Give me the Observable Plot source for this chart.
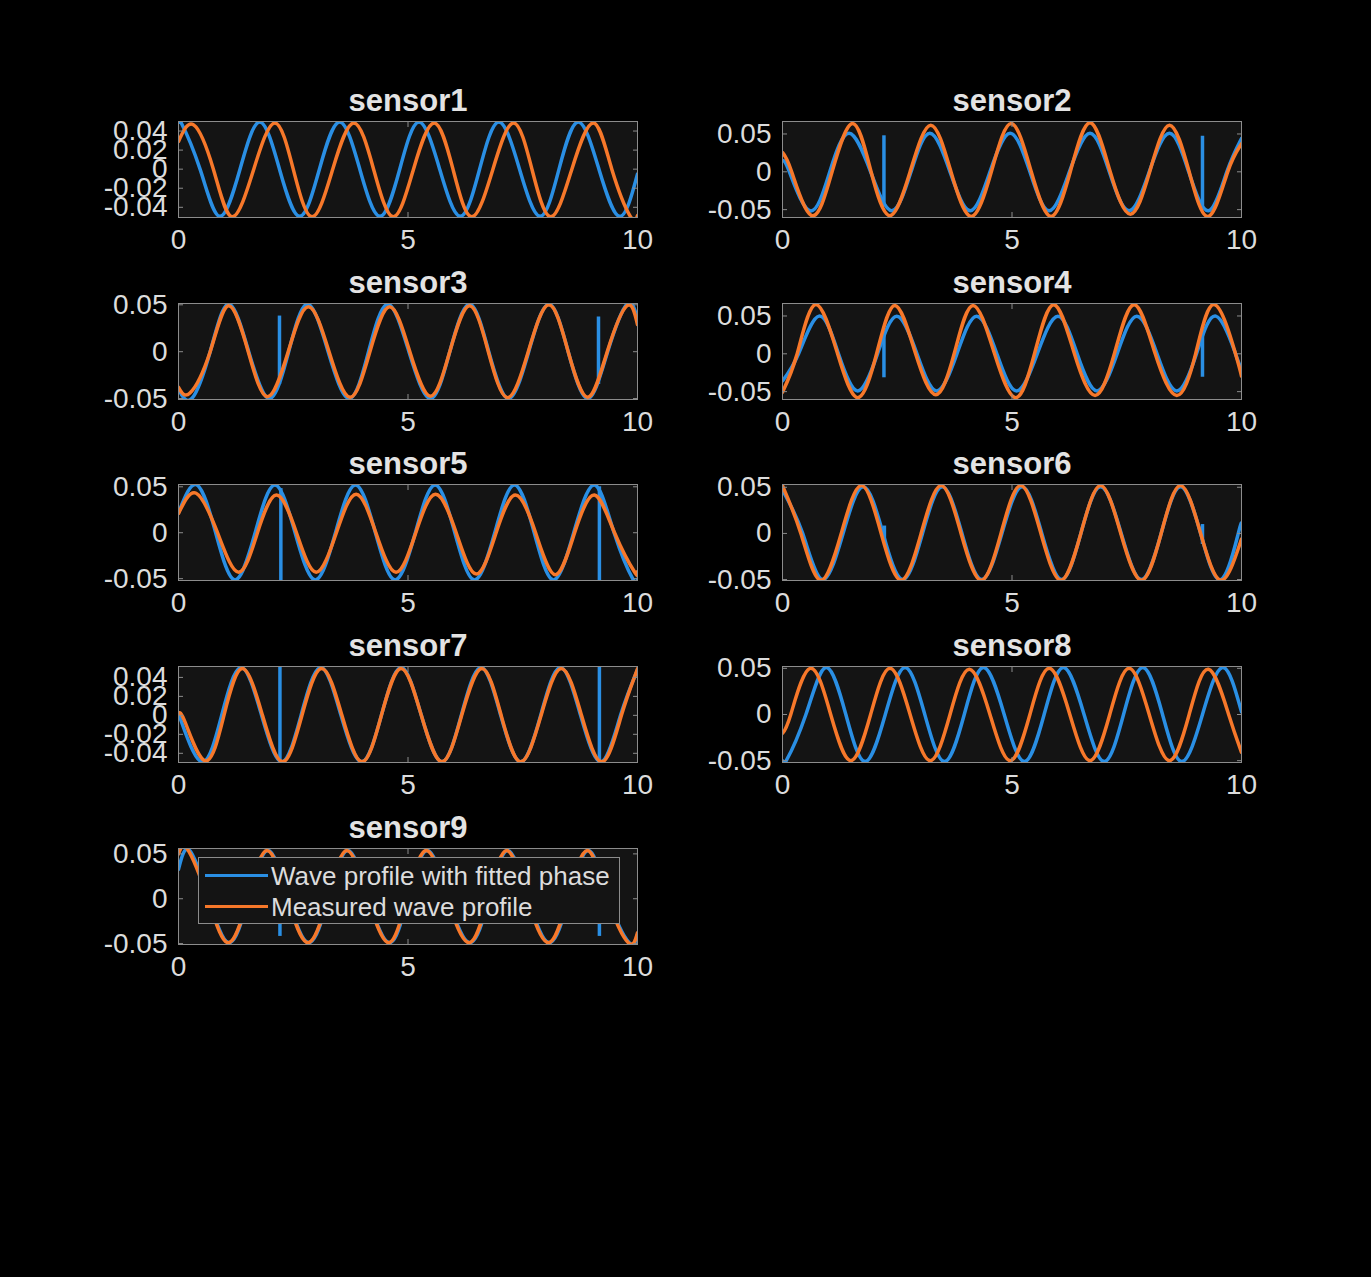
<!DOCTYPE html>
<html>
<head>
<meta charset="utf-8">
<script src="https://cdn.jsdelivr.net/npm/d3@7"></script>
<script src="https://cdn.jsdelivr.net/npm/@observablehq/plot@0.6"></script>
<style>
html,body{margin:0;padding:0;background:#000;}
#fig{position:relative;width:1371px;height:1277px;background:#000;overflow:hidden;font-family:"Liberation Sans",Arial,sans-serif;}
#fig svg{position:absolute;}
.legend{position:absolute;left:198px;top:857px;width:422px;height:67px;box-sizing:border-box;background:#141414;border:1px solid #8c8c8c;}
.legend .sw{position:absolute;left:6px;width:63px;height:3px;}
.legend .lab{position:absolute;left:72px;font-size:26px;line-height:1;color:#dcdcdc;white-space:nowrap;}
</style>
</head>
<body>
<div id="fig"></div>
<script>
// ---------------- data ----------------
const sensorNames = ["sensor1","sensor2","sensor3","sensor4","sensor5","sensor6","sensor7","sensor8","sensor9"];
const seriesNames = ["Wave profile with fitted phase","Measured wave profile"];
const xTickValues = [0, 5, 10];
const yDomainMin = [-0.0507,-0.0604,-0.051,-0.0604,-0.052,-0.051,-0.0497,-0.052,-0.051];
const yDomainMax = [ 0.0500, 0.0665, 0.0514, 0.0665, 0.0525, 0.053, 0.0515, 0.052, 0.056];
const yTickValues = [
  [-0.04,-0.02,0,0.02,0.04],
  [-0.05,0,0.05],
  [-0.05,0,0.05],
  [-0.05,0,0.05],
  [-0.05,0,0.05],
  [-0.05,0,0.05],
  [-0.04,-0.02,0,0.02,0.04],
  [-0.05,0,0.05],
  [-0.05,0,0.05]
];

// [time (s), elevation] key points: start, crests, zero crossings, troughs, end
const fitted1 = [[0,0.0490],[0.05,0.0495],[0.47,0],[0.90,-0.0495],[1.34,0],[1.77,0.0495],[2.20,0],[2.64,-0.0495],[3.07,0],[3.51,0.0495],[3.95,0],[4.39,-0.0495],[4.82,0],[5.24,0.0495],[5.69,0],[6.14,-0.0495],[6.56,0],[6.98,0.0495],[7.43,0],[7.88,-0.0495],[8.29,0],[8.71,0.0495],[9.16,0],[9.61,-0.0495],[10,-0.005]];
const measured1 = [[0,0.029],[0.33,0.0465],[0.76,0],[1.17,-0.050],[1.64,0],[2.10,0.0485],[2.50,0],[2.91,-0.050],[3.36,0],[3.82,0.0485],[4.25,0],[4.68,-0.050],[5.12,0],[5.57,0.0485],[5.98,0],[6.39,-0.050],[6.85,0],[7.30,0.0485],[7.70,0],[8.11,-0.050],[8.57,0],[9.04,0.0485],[9.44,0],[9.85,-0.050],[10,-0.0485]];

const fitted2 = [[0,0.0145],[0.15,0],[0.60,-0.0515],[1.03,0],[1.45,0.051],[1.92,0],[2.38,-0.0515],[2.80,0],[3.21,0.051],[3.65,0],[4.09,-0.0515],[4.52,0],[4.96,0.051],[5.39,0],[5.81,-0.0515],[6.25,0],[6.70,0.051],[7.12,0],[7.55,-0.0515],[7.99,0],[8.43,0.051],[8.85,0],[9.28,-0.0515],[9.68,0],[10,0.044]];
const measured2 = [[0,0.0255],[0.20,0],[0.64,-0.058],[1.08,0],[1.53,0.064],[1.93,0],[2.34,-0.058],[2.78,0],[3.23,0.0617],[3.67,0],[4.11,-0.059],[4.55,0],[4.98,0.064],[5.42,0],[5.85,-0.059],[6.27,0],[6.70,0.065],[7.14,0],[7.58,-0.056],[8.00,0],[8.43,0.0617],[8.86,0],[9.28,-0.059],[9.70,0],[10,0.037]];

const fitted3 = [[0,-0.040],[0.29,-0.050],[0.69,0],[1.09,0.0507],[1.53,0],[1.98,-0.050],[2.40,0],[2.81,0.0507],[3.26,0],[3.72,-0.050],[4.14,0],[4.56,0.0507],[5.02,0],[5.49,-0.050],[5.91,0],[6.34,0.0507],[6.76,0],[7.19,-0.050],[7.63,0],[8.07,0.0507],[8.49,0],[8.92,-0.050],[9.35,0],[9.77,0.0507],[10,0.035]];
const measured3 = [[0,-0.038],[0.25,-0.044],[0.69,0],[1.09,0.049],[1.52,0],[1.94,-0.048],[2.39,0],[2.83,0.048],[3.28,0],[3.74,-0.0486],[4.17,0],[4.60,0.048],[5.04,0],[5.49,-0.0475],[5.91,0],[6.34,0.049],[6.75,0],[7.17,-0.049],[7.62,0],[8.07,0.050],[8.49,0],[8.92,-0.0486],[9.34,0],[9.77,0.049],[10,0.029]];

const fitted4 = [[0,-0.036],[0.35,0],[0.795,0.0498],[1.22,0],[1.64,-0.049],[2.07,0],[2.49,0.0498],[2.93,0],[3.36,-0.049],[3.80,0],[4.23,0.0498],[4.67,0],[5.10,-0.049],[5.55,0],[6.00,0.0498],[6.42,0],[6.85,-0.049],[7.29,0],[7.72,0.0498],[8.16,0],[8.59,-0.049],[9.02,0],[9.44,0.0498],[9.87,0],[10,-0.021]];
const measured4 = [[0,-0.0507],[0.32,0],[0.72,0.065],[1.20,0],[1.64,-0.058],[2.05,0],[2.45,0.064],[2.90,0],[3.34,-0.054],[3.74,0],[4.15,0.064],[4.62,0],[5.08,-0.058],[5.49,0],[5.91,0.065],[6.36,0],[6.81,-0.055],[7.23,0],[7.66,0.065],[8.12,0],[8.59,-0.055],[9.00,0],[9.41,0.065],[9.87,0],[10,-0.0295]];

const fitted5 = [[0,0.0216],[0.40,0.052],[0.81,0],[1.23,-0.0514],[1.67,0],[2.10,0.052],[2.54,0],[2.98,-0.0514],[3.42,0],[3.855,0.052],[4.29,0],[4.72,-0.0514],[5.16,0],[5.59,0.052],[6.02,0],[6.45,-0.0514],[6.89,0],[7.32,0.052],[7.75,0],[8.17,-0.0514],[8.61,0],[9.06,0.052],[9.49,0],[9.91,-0.0514],[10,-0.0505]];
const measured5 = [[0,0.021],[0.385,0.043],[0.85,0],[1.31,-0.043],[1.72,0],[2.135,0.041],[2.57,0],[3.00,-0.043],[3.44,0],[3.87,0.042],[4.30,0],[4.74,-0.043],[5.17,0],[5.60,0.042],[6.05,0],[6.49,-0.045],[6.92,0],[7.34,0.041],[7.78,0],[8.21,-0.0457],[8.63,0],[9.06,0.041],[9.50,0],[9.94,-0.043],[10,-0.0425]];

const fitted6 = [[0,0.047],[0.44,0],[0.87,-0.050],[1.32,0],[1.76,0.0505],[2.19,0],[2.62,-0.050],[3.05,0],[3.48,0.0505],[3.91,0],[4.34,-0.050],[4.78,0],[5.22,0.0505],[5.65,0],[6.08,-0.050],[6.50,0],[6.93,0.0505],[7.38,0],[7.82,-0.050],[8.25,0],[8.67,0.0505],[9.11,0],[9.55,-0.050],[9.93,0],[10,0.009]];
const measured6 = [[0,0.0518],[0.40,0],[0.83,-0.0507],[1.28,0],[1.72,0.0518],[2.15,0],[2.585,-0.0507],[3.02,0],[3.457,0.0518],[3.89,0],[4.33,-0.0507],[4.76,0],[5.19,0.0518],[5.63,0],[6.065,-0.0507],[6.50,0],[6.93,0.0518],[7.37,0],[7.82,-0.0507],[8.25,0],[8.67,0.0518],[9.11,0],[9.55,-0.0507],[10,-0.006]];

const fitted7 = [[0,0.002],[0.52,-0.049],[0.94,0],[1.365,0.0505],[1.81,0],[2.25,-0.049],[2.67,0],[3.10,0.0505],[3.54,0],[3.99,-0.049],[4.42,0],[4.85,0.0505],[5.29,0],[5.74,-0.049],[6.16,0],[6.59,0.0505],[7.02,0],[7.456,-0.049],[7.89,0],[8.32,0.0505],[8.76,0],[9.21,-0.049],[9.63,0],[10,0.048]];
const measured7 = [[0,0.002],[0.15,-0.008],[0.59,-0.048],[0.99,0],[1.39,0.0494],[1.83,0],[2.27,-0.049],[2.69,0],[3.12,0.0494],[3.56,0],[4.00,-0.049],[4.42,0],[4.85,0.0494],[5.29,0],[5.74,-0.049],[6.17,0],[6.61,0.0494],[7.03,0],[7.456,-0.049],[7.90,0],[8.34,0.0494],[8.78,0],[9.23,-0.049],[9.65,0],[10,0.049]];

const fitted8 = [[0,-0.0500],[0.07,-0.0510],[0.51,0],[0.95,0.051],[1.38,0],[1.80,-0.051],[2.24,0],[2.67,0.051],[3.10,0],[3.53,-0.051],[3.96,0],[4.38,0.051],[4.83,0],[5.27,-0.051],[5.70,0],[6.12,0.051],[6.57,0],[7.01,-0.051],[7.43,0],[7.85,0.051],[8.28,0],[8.70,-0.051],[9.15,0],[9.59,0.051],[10,0.003]];
const measured8 = [[0,-0.0204],[0.18,0],[0.60,0.050],[1.05,0],[1.49,-0.050],[1.92,0],[2.34,0.050],[2.78,0],[3.22,-0.050],[3.65,0],[4.07,0.049],[4.52,0],[4.96,-0.050],[5.39,0],[5.81,0.050],[6.26,0],[6.70,-0.050],[7.13,0],[7.55,0.050],[7.99,0],[8.43,-0.050],[8.86,0],[9.28,0.049],[9.72,0],[10,-0.041]];

const fitted9 = [[0,0.0327],[0.24,0.054],[0.66,0],[1.10,-0.049],[1.52,0],[1.95,0.0537],[2.39,0],[2.84,-0.049],[3.26,0],[3.69,0.0537],[4.14,0],[4.60,-0.049],[4.99,0],[5.42,0.0537],[5.88,0],[6.35,-0.049],[6.76,0],[7.17,0.0537],[7.62,0],[8.08,-0.049],[8.50,0],[8.93,0.0537],[9.37,0],[9.82,-0.049],[10,-0.040]];
const measured9 = [[0,0.050],[0.20,0.055],[0.64,0],[1.08,-0.049],[1.51,0],[1.93,0.0537],[2.38,0],[2.82,-0.049],[3.25,0],[3.67,0.0537],[4.13,0],[4.58,-0.049],[4.97,0],[5.40,0.0537],[5.86,0],[6.33,-0.049],[6.74,0],[7.15,0.0537],[7.60,0],[8.06,-0.049],[8.48,0],[8.91,0.0537],[9.35,0],[9.80,-0.049],[10,-0.038]];

// one-sample glitches in the fitted-phase profile
const spikeSensor = ["sensor2","sensor2","sensor3","sensor3","sensor4","sensor4","sensor5","sensor5","sensor6","sensor6","sensor7","sensor7","sensor9","sensor9"];
const spikeTime   = [2.21, 9.15, 2.20, 9.15, 2.21, 9.15, 2.23, 9.17, 2.22, 9.15, 2.21, 9.17, 2.21, 9.17];
const spikeFrom   = [-0.046,-0.047,-0.035,-0.035, 0.030, 0.030, 0.048, 0.050, 0.008, 0.0096,-0.048,-0.048, 0.030, 0.033];
const spikeTo     = [ 0.0476, 0.047, 0.038, 0.037,-0.0317,-0.031,-0.052,-0.052,-0.010,-0.012, 0.0515, 0.0515,-0.042,-0.042];

const fittedSeries = [fitted1,fitted2,fitted3,fitted4,fitted5,fitted6,fitted7,fitted8,fitted9];
const measuredSeries = [measured1,measured2,measured3,measured4,measured5,measured6,measured7,measured8,measured9];

// ---------------- drawing ----------------
const BLUE = "#2a8fe4", ORANGE = "#f7782a", AXBG = "#141414", BOX = "#8c8c8c", TXT = "#dcdcdc";
const LW = 3.5;
const FW = 459, FH = 96, ML = 90, MR = 12, MT = 45, MB = 45;
const colLeft = [178, 782], rowTop = [121, 303, 484, 666, 848];
const fig = document.getElementById("fig");
const fmt = d => d === 0 ? "0" : String(+d.toFixed(2));

sensorNames.forEach((name, i) => {
  const spikes = spikeSensor
    .map((s, j) => ({sensor: s, t: spikeTime[j], from: spikeFrom[j], to: spikeTo[j]}))
    .filter(d => d.sensor === name);
  const ticks = yTickValues[i];
  const svg = Plot.plot({
    width: FW + ML + MR, height: FH + MT + MB,
    marginLeft: ML, marginRight: MR, marginTop: MT, marginBottom: MB,
    style: {background: "transparent", color: TXT, fontFamily: '"Liberation Sans", Arial, sans-serif', overflow: "visible"},
    x: {domain: [0, 10]},
    y: {domain: [yDomainMin[i], yDomainMax[i]]},
    marks: [
      Plot.frame({fill: AXBG, stroke: "none"}),
      Plot.ruleX(spikes, {x: "t", y1: "from", y2: "to", stroke: BLUE, strokeWidth: LW, clip: true}),
      Plot.line(fittedSeries[i], {x: d => d[0], y: d => d[1], stroke: BLUE, strokeWidth: LW, curve: "natural", clip: true}),
      Plot.line(measuredSeries[i], {x: d => d[0], y: d => d[1], stroke: ORANGE, strokeWidth: LW, curve: "natural", clip: true}),
      Plot.frame({stroke: BOX, strokeWidth: 1}),
      Plot.axisX(xTickValues, {anchor: "bottom", tickSize: -5, stroke: BOX, fill: "none", label: null}),
      Plot.axisX(xTickValues, {anchor: "top", tickSize: -5, stroke: BOX, fill: "none", label: null}),
      Plot.axisY(ticks, {anchor: "left", tickSize: -5, stroke: BOX, fill: "none", label: null}),
      Plot.axisY(ticks, {anchor: "right", tickSize: -5, stroke: BOX, fill: "none", label: null}),
      Plot.axisX(xTickValues, {anchor: "bottom", tickSize: 0, tickPadding: 12, fontSize: 28, fill: TXT, tickFormat: d => String(d), label: null}),
      Plot.axisY(ticks, {anchor: "left", tickSize: 0, tickPadding: 11, fontSize: 28, fill: TXT, tickFormat: fmt, label: null}),
      Plot.text([name], {text: d => d, frameAnchor: "top", dy: -10.5, lineAnchor: "bottom", fontSize: 31, fontWeight: "bold", fill: "#e3e3e3"})
    ]
  });
  svg.style.left = (colLeft[i % 2] - ML) + "px";
  svg.style.top = (rowTop[Math.floor(i / 2)] - MT) + "px";
  fig.appendChild(svg);
});

// legend (inside sensor9 axes)
const legend = document.createElement("div");
legend.className = "legend";
const swColors = [BLUE, ORANGE];
const swTop = [15.5, 47.2], labTop = [5, 35.7];
seriesNames.forEach((s, k) => {
  const sw = document.createElement("div");
  sw.className = "sw"; sw.style.top = swTop[k] + "px"; sw.style.background = swColors[k];
  const lab = document.createElement("div");
  lab.className = "lab"; lab.style.top = labTop[k] + "px"; lab.textContent = s;
  legend.appendChild(sw); legend.appendChild(lab);
});
fig.appendChild(legend);
</script>
</body>
</html>
